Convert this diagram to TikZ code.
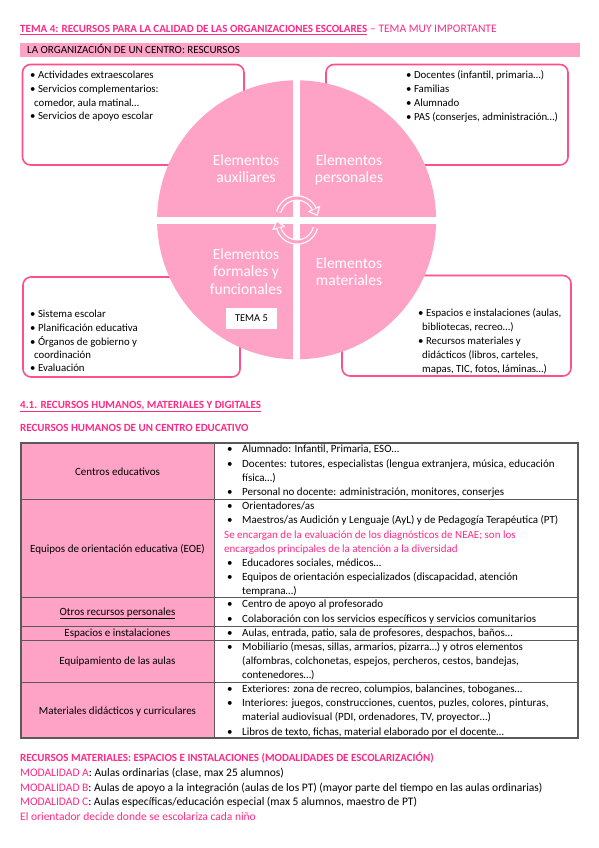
\documentclass[tikz,border=0pt]{standalone}
\usepackage{fontspec}
\setmainfont{Carlito}
\definecolor{pinkT}{HTML}{FF2A85}
\definecolor{pinkF}{HTML}{FFA3C6}
\definecolor{pinkB}{HTML}{FF4F8D}
\definecolor{gridc}{HTML}{5A5A5A}
\newcommand{\bul}{\makebox[15pt][l]{•}}
\tikzset{
 txt/.style={anchor=base west, inner sep=0pt, font=\fontsize{11}{13}\selectfont},
 modtxt/.style={txt, font=\fontsize{11.5}{13}\selectfont},
 redtxt/.style={txt, text=pinkT},
 boxtxt/.style={anchor=base west, inner sep=0pt, font=\fontsize{10.8}{13}\selectfont},
 circtxt/.style={anchor=base, inner sep=0pt, text=white, font=\fontsize{15.5}{17}\selectfont},
 rbox/.style={draw=pinkB, line width=1.6pt, rounded corners=8pt, fill=white},
 lcell/.style={anchor=base, inner sep=0pt, font=\fontsize{11}{13}\selectfont},
 head/.style={anchor=base west, inner sep=0pt, text=pinkT, font=\fontsize{11}{13}\selectfont\bfseries},
 arcout/.style={white, line width=5.4pt},
 arcin/.style={pinkF, line width=3pt},
 tip/.style={fill=pinkF, draw=white, line width=1.1pt, line join=round},
}
\begin{document}
\begin{tikzpicture}[x=1pt,y=-1pt]
\useasboundingbox (0,0) rectangle (599,848);
\fill[white] (0,0) rectangle (599,848);

% title
\node[head] (title) at (20,33) {\underline{TEMA 4: RECURSOS PARA LA CALIDAD DE LAS ORGANIZACIONES ESCOLARES}};
\node[anchor=base west, inner sep=0pt, text=pinkT, font=\fontsize{11.5}{13}\selectfont] (title2) at (title.base east) {\ – TEMA MUY IMPORTANTE};

% banner
\fill[pinkF] (20,43.5) rectangle (580,57.5);
\node[txt] (banner) at (27,54) {LA ORGANIZACIÓN DE UN CENTRO: RESCURSOS};

% boxes
\draw[rbox] (22.5,64.5) rectangle (244,165);
\draw[rbox] (326,64.5) rectangle (568,165);
\draw[rbox] (23,277) rectangle (240,377);
\draw[rbox] (342,275.5) rectangle (571,376);

% box texts
\node[boxtxt] (a1) at (30,79) {• Actividades extraescolares};
\node[boxtxt] (a2) at (30,93) {• Servicios complementarios:};
\node[boxtxt] (a3) at (34,106.5) {comedor, aula matinal…};
\node[boxtxt] (a4) at (30,120) {• Servicios de apoyo escolar};

\node[boxtxt] (p1) at (406,79) {• Docentes (infantil, primaria…)};
\node[boxtxt] (p2) at (406,93) {• Familias};
\node[boxtxt] (p3) at (406,107) {• Alumnado};
\node[boxtxt] (p4) at (406,121) {• PAS (conserjes, administración…)};

\node[boxtxt] (f1) at (30,317) {• Sistema escolar};
\node[boxtxt] (f2) at (30,331) {• Planificación educativa};
\node[boxtxt] (f3) at (30,345) {• Órganos de gobierno y};
\node[boxtxt] (f4) at (34,358) {coordinación};
\node[boxtxt] (f5) at (30,371) {• Evaluación};

\node[boxtxt] (m1) at (418,316) {• Espacios e instalaciones (aulas,};
\node[boxtxt] (m2) at (422,330) {bibliotecas, recreo…)};
\node[boxtxt] (m3) at (418,344) {• Recursos materiales y};
\node[boxtxt] (m4) at (422,358) {didácticos (libros, carteles,};
\node[boxtxt] (m5) at (422,372) {mapas, TIC, fotos, láminas…)};

% circle
\fill[pinkF] (296.6,219.8) circle[radius=139.5];
\draw[white, line width=7pt] (156,220.3) -- (437,220.3);
\draw[white, line width=6.7pt] (296.7,79) -- (296.7,360);

\node[circtxt] (c1) at (246,165) {Elementos};
\node[circtxt] (c2) at (246,182) {auxiliares};
\node[circtxt] (c3) at (349,165) {Elementos};
\node[circtxt] (c4) at (349,182) {personales};
\node[circtxt] (c5) at (246,259) {Elementos};
\node[circtxt] (c6) at (246,276.5) {formales y};
\node[circtxt] (c7) at (246,294) {funcionales};
\node[circtxt] (c8) at (349,268) {Elementos};
\node[circtxt] (c9) at (349,285) {materiales};

\node[fill=white, minimum width=51pt, minimum height=21pt, inner sep=0pt, font=\fontsize{10.5}{12}\selectfont] (tema5) at (251.5,318.5) {TEMA 5};

% cycle arrows
\draw[arcout] (278.65,212.08) arc[start angle=195, end angle=335, radius=19];
\filldraw[tip] (317.18,215.31) -- (319.66,206.43) -- (308.78,211.51) -- cycle;
\draw[arcin] (278.65,212.08) arc[start angle=195, end angle=335, radius=19];
\draw[arcout] (315.35,227.92) arc[start angle=15, end angle=165, radius=19];
\filldraw[tip] (276.84,221.16) -- (284.45,226.37) -- (272.85,229.47) -- cycle;
\draw[arcin] (315.35,227.92) arc[start angle=15, end angle=165, radius=19];

% headings
\node[head] (h1) at (20,408) {\underline{4.1. RECURSOS HUMANOS, MATERIALES Y DIGITALES}};
\node[head] (h2) at (20,431) {RECURSOS HUMANOS DE UN CENTRO EDUCATIVO};

% table
\fill[pinkF] (21,443) rectangle (214,738);
\foreach \yy in {499,597,626,640,682} \draw[gridc, line width=0.9pt] (21,\yy) -- (578,\yy);
\draw[gridc, line width=0.9pt] (214,443) -- (214,738);
\draw[gridc, line width=1.4pt] (21,443) rectangle (578,738);

\node[lcell] (l1) at (117.5,475) {Centros educativos};
\node[lcell] (l2) at (117.5,552) {Equipos de orientación educativa (EOE)};
\node[lcell] (l3) at (117.5,615) {\underline{Otros recursos personales}};
\node[lcell] (l4) at (117.5,636) {Espacios e instalaciones};
\node[lcell] (l5) at (117.5,664) {Equipamiento de las aulas};
\node[lcell] (l6) at (117.5,714) {Materiales didácticos y curriculares};

\node[txt] (r1) at (227,452) {\bul Alumnado: Infantil, Primaria, ESO…};
\node[txt] (r2) at (227,467) {\bul Docentes: tutores, especialistas (lengua extranjera, música, educación};
\node[txt] (r3) at (242,481) {física…)};
\node[txt] (r4) at (227,495) {\bul Personal no docente: administración, monitores, conserjes};

\node[txt] (r5) at (227,509) {\bul Orientadores/as};
\node[txt] (r6) at (227,523) {\bul Maestros/as Audición y Lenguaje (AyL) y de Pedagogía Terapéutica (PT)};
\node[redtxt] (r7) at (224,538) {Se encargan de la evaluación de los diagnósticos de NEAE; son los};
\node[redtxt] (r8) at (224,552) {encargados principales de la atención a la diversidad};
\node[txt] (r9) at (227,566) {\bul Educadores sociales, médicos…};
\node[txt] (r10) at (227,580) {\bul Equipos de orientación especializados (discapacidad, atención};
\node[txt] (r11) at (242,594) {temprana…)};

\node[txt] (r12) at (227,607) {\bul Centro de apoyo al profesorado};
\node[txt] (r13) at (227,622) {\bul Colaboración con los servicios específicos y servicios comunitarios};

\node[txt] (r14) at (227,636) {\bul Aulas, entrada, patio, sala de profesores, despachos, baños…};

\node[txt] (r15) at (227,650) {\bul Mobiliario (mesas, sillas, armarios, pizarra…) y otros elementos};
\node[txt] (r16) at (242,664) {(alfombras, colchonetas, espejos, percheros, cestos, bandejas,};
\node[txt] (r17) at (242,678) {contenedores…)};

\node[txt] (r18) at (227,692) {\bul Exteriores: zona de recreo, columpios, balancines, toboganes…};
\node[txt] (r19) at (227,706) {\bul Interiores: juegos, construcciones, cuentos, puzles, colores, pinturas,};
\node[txt] (r20) at (242,720) {material audiovisual (PDI, ordenadores, TV, proyector…)};
\node[txt] (r21) at (227,735) {\bul Libros de texto, fichas, material elaborado por el docente…};

% bottom
\node[head] (h3) at (20,761) {RECURSOS MATERIALES: ESPACIOS E INSTALACIONES (MODALIDADES DE ESCOLARIZACIÓN)};
\node[modtxt] (mA) at (20,776) {\textcolor{pinkT}{MODALIDAD A}: Aulas ordinarias (clase, max 25 alumnos)};
\node[modtxt] (mB) at (20,791) {\textcolor{pinkT}{MODALIDAD B}: Aulas de apoyo a la integración (aulas de los PT) (mayor parte del tiempo en las aulas ordinarias)};
\node[modtxt] (mC) at (20,805) {\textcolor{pinkT}{MODALIDAD C}: Aulas específicas/educación especial (max 5 alumnos, maestro de PT)};
\node[redtxt, font=\fontsize{11.5}{13}\selectfont] (orient) at (20,820) {El orientador decide donde se escolariza cada niño};
\end{tikzpicture}
\end{document}
